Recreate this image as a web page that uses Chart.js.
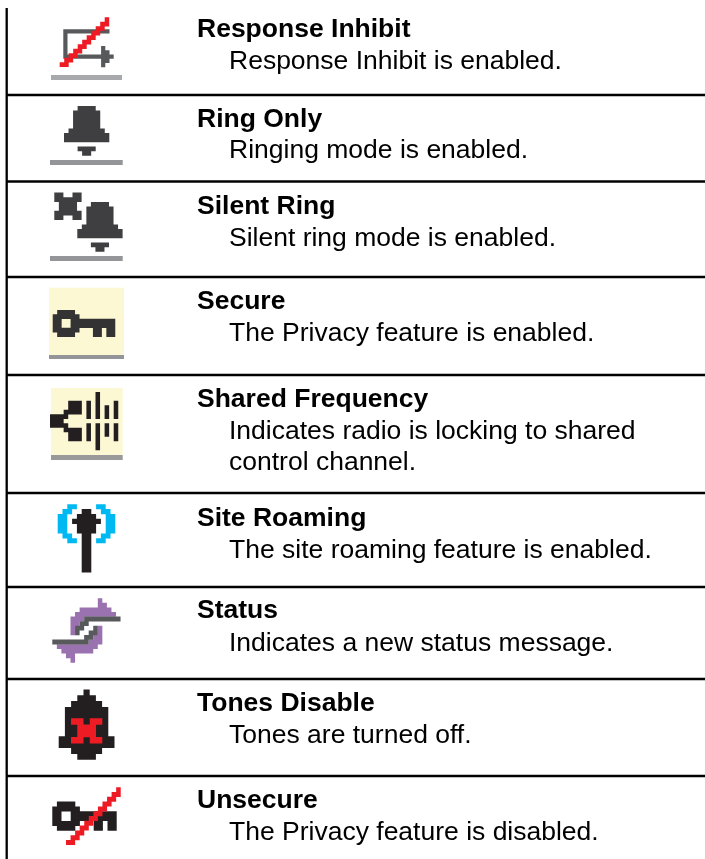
<!DOCTYPE html>
<html>
<head>
<meta charset="utf-8">
<style>
html, body { margin: 0; padding: 0; background: #fff; }
canvas { display: block; }
</style>
<script src="https://cdn.jsdelivr.net/npm/chart.js@4"></script>
</head>
<body>
<canvas id="myChart" width="705" height="859"></canvas>
<script>
// table contents
const titles = ["Response Inhibit", "Ring Only", "Silent Ring", "Secure", "Shared Frequency",
    "Site Roaming", "Status", "Tones Disable", "Unsecure"];
const descriptions = [
    ["Response Inhibit is enabled."],
    ["Ringing mode is enabled."],
    ["Silent ring mode is enabled."],
    ["The Privacy feature is enabled."],
    ["Indicates radio is locking to shared", "control channel."],
    ["The site roaming feature is enabled."],
    ["Indicates a new status message."],
    ["Tones are turned off."],
    ["The Privacy feature is disabled."]
];
const titleLines = [37.3, 126.8, 213.8, 309, 407, 525.5, 618.3, 710.8, 807.5];
const descLines = [69.3, 157.5, 245.5, 341, 439, 558, 651, 743, 839.5];
const ruleLines = [95, 181.5, 277, 375, 493, 587, 679, 776];

// icon bitmaps
const inhibitBox = [
    "###########.",
    "#...........",
    "#...........",
    "#...........",
    "#........#..",
    "#........##.",
    "############",
    ".........##.",
    ".........#.."
];
const inhibitSlash = [
    "..........r",
    ".........rr",
    "........rr.",
    ".......rr..",
    "......rr...",
    ".....rr....",
    "....rr.....",
    "...rr......",
    "..rr.......",
    ".rr........",
    "rr........."
];
const bell = [
    "...####...",
    "..######..",
    "..######..",
    "..######..",
    "..######..",
    ".########.",
    "##########",
    "##########",
    "..........",
    "...####...",
    "....##...."
];
const cross = [
    "##..##",
    "######",
    ".####.",
    ".####.",
    "######",
    "##..##"
];
const key = [
    ".####.........",
    "######........",
    "##..##########",
    "##..##########",
    "######...##.##",
    ".####....##.##"
];
const shared = [
    "..........#.....",
    "..........#.....",
    "....###.#.#...#.",
    "....###.#.#.#.#.",
    "...####.#.#.#.#.",
    "####....#.#.#.#.",
    "###.............",
    "####....#.#.#.#.",
    "...####.#.#.#.#.",
    "....###.#.#.#.#.",
    "....###.#.#...#.",
    "..........#.....",
    "..........#....."
];
const roaming = [
    "..bb....bb..",
    ".bb..##..bb.",
    "bb..####..bb",
    "bb.######.bb",
    "bb..####..bb",
    "bb..####..bb",
    ".bb..##..bb.",
    "..bb.##.bb..",
    ".....##.....",
    ".....##.....",
    ".....##.....",
    ".....##.....",
    ".....##.....",
    ".....##....."
];
const status = [
    "..........p....",
    "..........pp...",
    "......ppppppp..",
    ".....ppppppppp.",
    "....pppgggggggg",
    "....ppgg.......",
    "....pgg..gp....",
    "....pg..ggp....",
    ".......ggpp....",
    "ggggggggppp....",
    ".ppppppppp.....",
    "..ppppppp......",
    "...pp..........",
    "....p.........."
];
const tones = [
    "....#....",
    "...###...",
    "..#####..",
    ".#######.",
    ".#######.",
    ".#######.",
    ".#######.",
    ".#######.",
    "#########",
    "#########",
    "..#####..",
    "...###..."
];
const tonesMark = [
    "rr.rr",
    ".rrr.",
    ".rrr.",
    "rr.rr"
];
const unsecureSlash = [
    "...........r",
    "..........rr",
    ".........rr.",
    "........rr..",
    ".......rr...",
    "......rr....",
    ".....rr.....",
    "....rr......",
    "...rr.......",
    "..rr........",
    ".rr.........",
    "rr.........."
];

const palette = { g: "#58595b", r: "#ed1c24", b: "#00b9f2", p: "#9b72b0" };
const dark = "#3f3f41", black = "#231f20";

// bitmap, left, top, cell width, cell height, colour of #
const iconLayers = [
    [inhibitBox, 63.3, 29.3, 4.2, 4.2, "#58595b"],
    [inhibitSlash, 59.7, 17.3, 4.5, 4.5, black],
    [bell, 64, 106, 4.53, 4.52, dark],
    [cross, 54.3, 192.7, 4.55, 4.55, dark],
    [bell, 77.3, 202, 4.53, 4.52, dark],
    [key, 52.7, 310, 4.47, 4.47, "#333333"],
    [shared, 50, 392, 4.55, 4.47, black],
    [roaming, 57.7, 504.3, 4.8, 4.87, black],
    [status, 52.3, 598.3, 4.55, 4.6, "#58595b"],
    [tones, 58.7, 689.5, 6.2, 5.85, black],
    [tonesMark, 71, 718.3, 6.26, 6.25, black],
    [key, 52.3, 801.7, 4.6, 4.83, black],
    [unsecureSlash, 66, 787.3, 4.56, 4.8, black]
];
// yellow backings and the grey bars under icons: x0, x1, y middle, thickness, colour
const bands = [
    [51, 122, 77.5, 5, "#a7a9ac"],
    [50, 122.7, 162.5, 5, "#939598"],
    [50, 122.7, 258.5, 5, "#939598"],
    [49, 124, 321.4, 67.3, "#fbf8d3"],
    [49, 124, 357, 4, "#939598"],
    [51, 122.7, 421.5, 67, "#fbf8d3"],
    [51, 122.7, 457.5, 5, "#999999"]
];

let datasets = [];
function addLine(points, color, width) {
    datasets.push({
        type: "scatter",
        showLine: true,
        data: points,
        borderColor: color,
        borderWidth: width,
        borderCapStyle: "butt",
        pointRadius: 0,
        spanGaps: false,
        order: -datasets.length
    });
}

// one line per colour, each row of a bitmap turns into horizontal runs
function addBitmap(rows, left, top, w, h, color) {
    let runs = {};
    rows.forEach(function (row, r) {
        let c = 0;
        while (c < row.length) {
            let ch = row[c];
            if (ch === ".") { c++; continue; }
            let start = c;
            while (c < row.length && row[c] === ch) c++;
            if (!runs[ch]) runs[ch] = [];
            let y = top + (r + 0.5) * h;
            runs[ch].push({ x: left + start * w, y: y }, { x: left + c * w, y: y }, { x: left + c * w, y: null });
        }
    });
    Object.keys(runs).forEach(function (ch) {
        addLine(runs[ch], palette[ch] || color, h + 0.2);
    });
}

bands.forEach(function (b) {
    addLine([{ x: b[0], y: b[2] }, { x: b[1], y: b[2] }], b[4], b[3]);
});
iconLayers.forEach(function (l) {
    addBitmap(l[0], l[1], l[2], l[3], l[4], l[5]);
});
ruleLines.forEach(function (y) {
    addLine([{ x: 6, y: y }, { x: 705, y: y }], "#000000", 2.3);
});
addLine([{ x: 6.7, y: 8 }, { x: 6.7, y: 859 }], "#000000", 2.3);

const tableText = {
    id: "tableText",
    afterDatasetsDraw(chart) {
        const ctx = chart.ctx;
        const xs = chart.scales.x, ys = chart.scales.y;
        ctx.save();
        ctx.fillStyle = "#000000";
        ctx.textBaseline = "alphabetic";
        titles.forEach(function (t, i) {
            ctx.font = "bold 26.5px 'Liberation Sans'";
            ctx.fillText(t, xs.getPixelForValue(197), ys.getPixelForValue(titleLines[i]));
            ctx.font = "26.5px 'Liberation Sans'";
            descriptions[i].forEach(function (d, k) {
                ctx.fillText(d, xs.getPixelForValue(229), ys.getPixelForValue(descLines[i] + k * 31));
            });
        });
        ctx.restore();
    }
};

new Chart("myChart", {
    data: { datasets: datasets },
    options: {
        responsive: false,
        animation: false,
        layout: { padding: 0 },
        plugins: { legend: { display: false }, tooltip: { enabled: false } },
        scales: {
            x: { type: "linear", min: 0, max: 705, display: false },
            y: { type: "linear", min: 0, max: 859, reverse: true, display: false }
        }
    },
    plugins: [tableText]
});
</script>
</body>
</html>
